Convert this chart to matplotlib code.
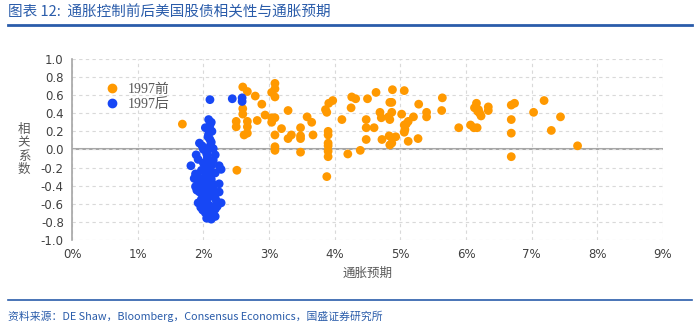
import matplotlib
matplotlib.use("Agg")
import matplotlib.pyplot as plt
from matplotlib.ticker import FuncFormatter, MultipleLocator
from matplotlib.lines import Line2D

plt.rcParams['font.family'] = ['Noto Sans CJK SC', 'DejaVu Sans']

# 1997前 (orange)
pre_x = [1.68, 2.51, 2.60, 2.67, 2.60, 2.60, 2.50, 2.50, 2.67, 2.67, 2.62, 2.67,
         2.79, 2.89, 2.82, 2.94, 3.04, 3.09, 3.09, 3.09, 3.04, 3.09, 3.04, 3.09,
         3.09, 3.09, 3.19, 3.29, 3.29, 3.34, 3.48, 3.48, 3.48, 3.48, 3.58, 3.65,
         3.67, 3.86, 3.88, 3.91, 3.97, 3.90, 3.90, 3.90, 3.90, 3.90, 3.90, 3.88,
         4.11, 4.20, 4.25, 4.26, 4.32, 4.39, 4.48, 4.48, 4.48, 4.50, 4.60, 4.63,
         4.69, 4.71, 4.72, 4.82, 4.84, 4.84, 4.87, 4.87, 4.88, 4.83, 4.87, 4.93,
         4.84, 5.02, 5.06, 5.06, 5.07, 5.06, 5.09, 5.12, 5.12, 5.20, 5.27, 5.28,
         5.40, 5.40, 5.64, 5.63, 5.89, 6.07, 6.12, 6.17, 6.13, 6.16, 6.19, 6.21,
         6.23, 6.18, 6.34, 6.34, 6.69, 6.74, 6.69, 6.69, 6.69, 7.03, 7.19, 7.30,
         7.44, 7.70]
pre_y = [0.28, -0.23, 0.69, 0.64, 0.45, 0.39, 0.31, 0.25, 0.31, 0.25, 0.16, 0.18,
         0.59, 0.50, 0.32, 0.38, 0.63, 0.73, 0.67, 0.58, 0.35, 0.35, 0.30, 0.16,
         0.03, -0.01, 0.23, 0.43, 0.12, 0.16, 0.24, 0.15, 0.12, -0.03, 0.36, 0.30,
         0.16, 0.44, 0.41, 0.51, 0.54, 0.20, 0.16, 0.07, 0.04, -0.02, -0.08, -0.30,
         0.33, -0.05, 0.46, 0.58, 0.56, -0.01, 0.33, 0.24, 0.11, 0.56, 0.24, 0.63,
         0.41, 0.35, 0.11, 0.36, 0.33, 0.52, 0.52, 0.41, 0.66, 0.15, 0.07, 0.14,
         0.05, 0.39, 0.65, 0.27, 0.22, 0.19, 0.28, 0.31, 0.09, 0.36, 0.12, 0.50,
         0.41, 0.36, 0.57, 0.43, 0.24, 0.27, 0.24, 0.24, 0.46, 0.51, 0.44, 0.40,
         0.37, 0.42, 0.47, 0.43, 0.49, 0.51, 0.33, 0.18, -0.08, 0.41, 0.54, 0.21,
         0.36, 0.04]

# 1997后 (blue)
post_x = [2.10, 2.44, 2.59, 2.59, 2.08, 2.12, 2.10, 2.03, 2.10, 2.13,
          2.07, 2.10, 2.12, 1.94, 1.98, 2.00, 2.09, 2.15, 2.06,
          1.89, 2.18, 1.92, 2.06, 2.15, 2.10,
          1.81, 2.00, 2.24, 2.27, 1.97, 2.09, 2.04,
          1.88, 2.18, 2.03, 2.11, 1.93, 1.91, 2.12, 2.07,
          1.98, 2.24, 1.86, 1.88, 2.06, 2.15, 2.01, 1.95,
          1.94, 1.99, 2.00, 2.24, 2.09, 2.18, 1.97, 2.13, 2.05,
          1.92, 2.06, 2.27, 2.20, 2.12, 1.96, 2.18, 2.08, 2.01,
          2.03, 2.15, 2.07, 2.18, 2.05, 2.10, 2.12, 1.99,
          2.08, 2.11, 2.05, 2.12, 2.08, 2.14, 2.03, 2.10, 1.90, 2.21]
post_y = [0.55, 0.56, 0.57, 0.53, 0.33, 0.30, 0.27, 0.24, 0.22, 0.20,
          0.14, 0.11, 0.08, 0.07, 0.04, 0.00, 0.02, 0.01, -0.02,
          -0.06, -0.06, -0.11, -0.09, -0.12, -0.14,
          -0.18, -0.15, -0.18, -0.22, -0.23, -0.22, -0.19,
          -0.27, -0.26, -0.30, -0.28, -0.31, -0.34, -0.33, -0.36,
          -0.37, -0.38, -0.32, -0.41, -0.42, -0.43, -0.44, -0.40,
          -0.47, -0.46, -0.50, -0.47, -0.52, -0.54, -0.55, -0.49, -0.48,
          -0.59, -0.59, -0.59, -0.57, -0.63, -0.64, -0.66, -0.62, -0.61,
          -0.70, -0.72, -0.74, -0.74, -0.76, -0.68, -0.77, -0.67,
          0.17, 0.05, -0.05, -0.18, -0.26, -0.38, -0.53, -0.45, -0.45, -0.63]

orange = '#FF9900'
blue = '#1747F5'
navy = '#2A5CAA'
grey = '#595959'

fig = plt.figure(figsize=(7, 3.31), dpi=100)
ax = fig.add_axes([0.103, 0.275, 0.844, 0.547])

ax.scatter(pre_x, pre_y, s=40, color=orange, edgecolors='none', zorder=3)
ax.scatter(post_x, post_y, s=40, color=blue, edgecolors='none', zorder=4)

ax.set_xlim(0, 9)
ax.set_ylim(-1.0, 1.0)
ax.xaxis.set_major_locator(MultipleLocator(1))
ax.yaxis.set_major_locator(MultipleLocator(0.2))
ax.xaxis.set_major_formatter(FuncFormatter(lambda v, p: f'{v:.0f}%'))
ax.yaxis.set_major_formatter(FuncFormatter(lambda v, p: f'{v:.1f}'))
ax.grid(True, color='#D9D9D9', linestyle=(0, (3, 3)), linewidth=0.8, zorder=0)
ax.axhline(0, color='#A6A6A6', linewidth=1.5, zorder=1)

for s in ['top', 'right', 'bottom']:
    ax.spines[s].set_visible(False)
ax.spines['left'].set_color('#A6A6A6')
ax.spines['left'].set_linewidth(1.2)
ax.tick_params(length=0, labelsize=8.5, labelcolor='#404040', pad=6)
for lab in ax.get_xticklabels() + ax.get_yticklabels():
    lab.set_fontfamily('DejaVu Sans')

ax.set_xlabel('通胀预期', fontsize=9, color=grey, labelpad=4)
ax.set_ylabel('相\n关\n系\n数', fontsize=9, color=grey, rotation=0,
              va='center', labelpad=12, linespacing=1.05)

handles = [Line2D([], [], marker='o', linestyle='none', color=orange, markersize=6),
           Line2D([], [], marker='o', linestyle='none', color=blue, markersize=6)]
leg = ax.legend(handles, ['1997前', '1997后'], loc='upper left',
                bbox_to_anchor=(0.035, 0.9), frameon=False, handletextpad=0.1,
                borderaxespad=0, labelspacing=0.15,
                prop={'family': ['Liberation Serif', 'Noto Sans CJK SC'], 'size': 10})
for t in leg.get_texts():
    t.set_color(grey)

fig.text(0.011, 0.962, '图表 12:  通胀控制前后美国股债相关性与通胀预期',
         fontsize=10.5, color=navy, style='italic', va='center')
fig.add_artist(Line2D([0.012, 0.988], [0.924, 0.924], color=navy, linewidth=2))
fig.add_artist(Line2D([0.012, 0.988], [0.094, 0.094], color=navy, linewidth=1.2))
fig.text(0.011, 0.043, '资料来源：DE Shaw，Bloomberg，Consensus Economics，国盛证券研究所',
         fontsize=7.8, color=navy, style='italic', va='center',
         family=['Liberation Sans Narrow', 'Noto Sans CJK SC'])

fig.savefig('out.png', dpi=100)
